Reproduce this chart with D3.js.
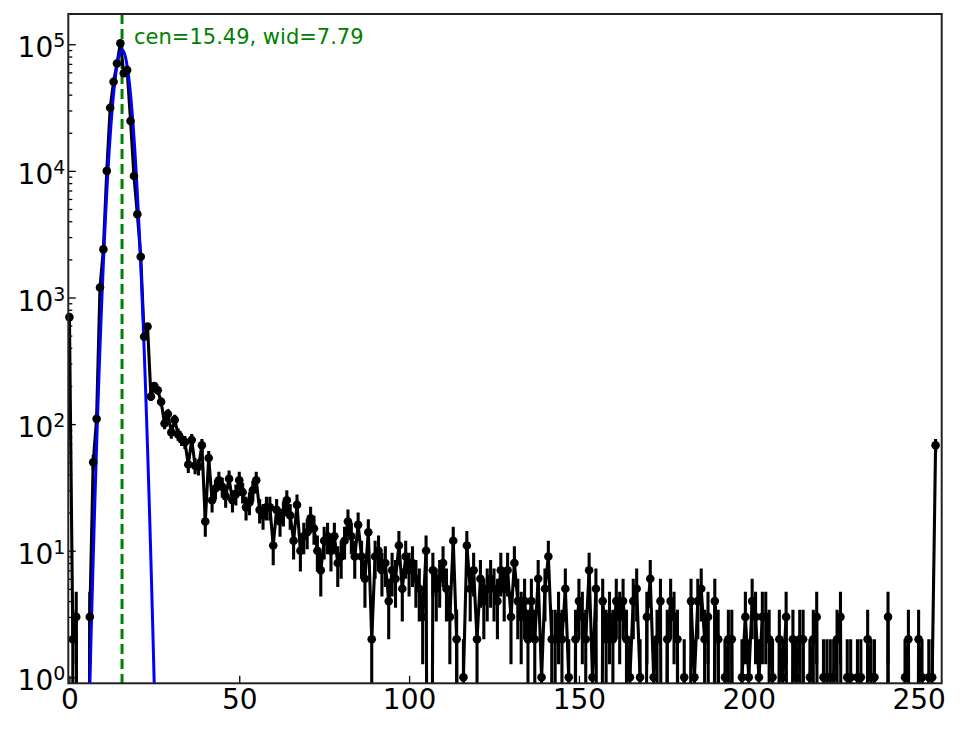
<!DOCTYPE html>
<html>
<head>
<meta charset="utf-8">
<script src="https://cdn.jsdelivr.net/npm/d3@7"></script>
<style>
	body { margin: 0; background: white; }
	text { font-family: "DejaVu Sans", sans-serif; }
</style>
</head>
<body>
<div id="chart"></div>
<script>
// counts per bin (bin index = position in array)
var counts = [
	700, 2, 3, 0, 0, 0, 3, 50, 110, 1200,
	2400, 10000, 31500, 50500, 70500, 102000, 59000, 62500, 24800, 9100,
	4550, 2100, 490, 590, 165, 200, 185, 150, 101, 120,
	86, 108, 83, 76, 72, 48, 75, 47, 46, 68,
	17, 54, 25, 31, 36, 32, 27, 37, 25, 28,
	36, 29, 22, 24, 30, 36, 21, 19, 22, 22,
	11, 21, 17, 20, 25, 19, 12, 23, 10, 13,
	14, 18, 15, 10, 7, 12, 13, 10, 13, 8,
	9, 12, 17, 13, 9, 16, 9, 6, 14, 2,
	9, 10, 7, 8, 4, 7, 6, 11, 5, 9,
	7, 8, 6, 5, 3, 10, 0, 7, 5, 6,
	8, 5, 3, 12, 2, 0, 1, 11, 5, 7,
	2, 6, 4, 5, 6, 5, 4, 7, 5, 7,
	3, 8, 4, 3, 4, 2, 4, 2, 6, 1,
	5, 9, 2, 2, 3, 2, 5, 1, 0, 2,
	4, 3, 2, 7, 1, 5, 0, 4, 2, 3,
	2, 4, 3, 4, 2, 1, 4, 5, 1, 0,
	3, 6, 1, 2, 4, 0, 2, 4, 3, 2,
	0, 1, 0, 4, 1, 4, 5, 2, 3, 0,
	4, 2, 0, 1, 2, 2, 0, 0, 1, 3,
	1, 4, 3, 1, 3, 3, 2, 1, 0, 2,
	1, 3, 0, 2, 1, 2, 2, 0, 1, 2,
	3, 0, 1, 1, 1, 1, 2, 3, 0, 1,
	1, 0, 1, 1, 0, 2, 1, 1, 0, 0,
	0, 3, 0, 0, 0, 0, 1, 2, 0, 0,
	2, 1, 0, 1, 1, 68
];

// gaussian fit shown in the label
var fit_cen = 15.49;
var fit_wid = 7.79;
var fit_amp = 90000;

var x_ticks = [0, 50, 100, 150, 200, 250];
var y_ticks = [1, 10, 100, 1000, 10000, 100000];
var y_exponents = ["0", "1", "2", "3", "4", "5"];

function drawChart() {
	var width = 964,
		height = 729;
	var margin = {left: 68.3, top: 14, right: 22.3, bottom: 45.7};
	var plot_w = width - margin.left - margin.right,
		plot_h = height - margin.top - margin.bottom;

	var svg = d3.select("#chart").append("svg")
		.attr("width", width)
		.attr("height", height);

	var x = d3.scaleLinear().domain([-0.33, 256.8]).range([0, plot_w]);
	var y = d3.scaleLog().domain([0.897, 173400]).range([plot_h, 0]);

	// zero counts can't sit on a log axis: push them far below the frame
	function ypos(v) { return v > 0 ? y(v) : y(1e-6); }

	svg.append("defs").append("clipPath").attr("id", "plotclip")
		.append("rect").attr("width", plot_w).attr("height", plot_h);

	var g = svg.append("g").attr("transform", "translate(" + margin.left + "," + margin.top + ")");
	var inner = g.append("g").attr("clip-path", "url(#plotclip)");

	inner.append("line")
		.attr("x1", x(fit_cen)).attr("x2", x(fit_cen))
		.attr("y1", 0).attr("y2", plot_h)
		.style("stroke", "#008000")
		.style("stroke-width", "3px")
		.style("stroke-dasharray", "10,5");

	// data line + error bars
	var data_line = d3.line()
		.x(function(d, i) { return x(i); })
		.y(function(d) { return ypos(d); });

	inner.append("path")
		.datum(counts)
		.attr("d", data_line)
		.style("fill", "none")
		.style("stroke", "black")
		.style("stroke-width", "3.1px")
		.style("stroke-linejoin", "miter");

	var pts = counts.map(function(d, i) { return {i: i, v: d}; }).filter(function(d) { return d.v > 0; });

	inner.selectAll("line.err")
		.data(pts)
		.enter()
			.append("line")
			.attr("class", "err")
			.attr("x1", function(d) { return x(d.i); })
			.attr("x2", function(d) { return x(d.i); })
			.attr("y1", function(d) { return ypos(d.v + Math.sqrt(d.v)); })
			.attr("y2", function(d) { return ypos(d.v - Math.sqrt(d.v)); })
			.style("stroke", "black")
			.style("stroke-width", "3.1px");

	// fit line
	var fit_x = d3.range(0, 256.01, 0.1);
	var fit_line = d3.line()
		.x(function(d) { return x(d); })
		.y(function(d) {
			var v = fit_amp * Math.exp(-Math.pow(d - fit_cen, 2) / fit_wid);
			return v > 1e-6 ? y(v) : y(1e-6);
		});

	inner.append("path")
		.datum(fit_x)
		.attr("d", fit_line)
		.style("fill", "none")
		.style("stroke", "#0000ff")
		.style("stroke-width", "3px");

	g.selectAll("circle.pt")
		.data(pts)
		.enter()
			.append("circle")
			.attr("class", "pt")
			.attr("cx", function(d) { return x(d.i); })
			.attr("cy", function(d) { return y(d.v); })
			.attr("r", 4.3)
			.style("fill", "black");

	// axes, ticks pointing inward
	var minor = [];
	y_ticks.forEach(function(t) {
		for (var k = 2; k < 10; k++) { if (t * k < 173400) minor.push(t * k); }
	});

	g.append("g")
		.call(d3.axisLeft(y).tickValues(minor).tickSizeInner(-4).tickSizeOuter(0).tickFormat(""))
		.call(function(a) { a.select(".domain").remove(); a.selectAll("line").style("stroke-width", "1.3px"); });

	var yaxis = g.append("g")
		.call(d3.axisLeft(y).tickValues(y_ticks).tickSizeInner(-7.5).tickSizeOuter(0).tickPadding(3).tickFormat(""));
	yaxis.select(".domain").remove();
	yaxis.selectAll("line").style("stroke-width", "1.3px");
	yaxis.selectAll(".tick text").each(function(d, i) {
		var t = d3.select(this)
			.attr("dy", null)
			.attr("y", 12.6)
			.attr("x", -3)
			.style("font-size", "28px")
			.style("fill", "black")
			.style("font-family", "DejaVu Sans");
		t.append("tspan").text("10");
		t.append("tspan").text(y_exponents[i]).attr("dy", -10).style("font-size", "19px");
	});

	var xaxis = g.append("g")
		.attr("transform", "translate(0," + plot_h + ")")
		.call(d3.axisBottom(x).tickValues(x_ticks).tickSizeInner(-7.5).tickSizeOuter(0).tickFormat(d3.format("d")));
	xaxis.select(".domain").remove();
	xaxis.selectAll("line").style("stroke-width", "1.3px");
	xaxis.selectAll(".tick text")
		.attr("dy", null)
		.attr("y", 25.5)
		.style("font-size", "28px")
		.style("fill", "black")
		.style("font-family", "DejaVu Sans");

	g.append("rect")
		.attr("width", plot_w).attr("height", plot_h)
		.style("fill", "none")
		.style("stroke", "#222")
		.style("stroke-width", "2px");

	g.append("text")
		.attr("x", x(fit_cen) + 12)
		.attr("y", 29.5)
		.style("font-size", "21px")
		.style("fill", "#008000")
		.text("cen=" + fit_cen.toFixed(2) + ", wid=" + fit_wid.toFixed(2));
}

drawChart();
</script>
</body>
</html>
